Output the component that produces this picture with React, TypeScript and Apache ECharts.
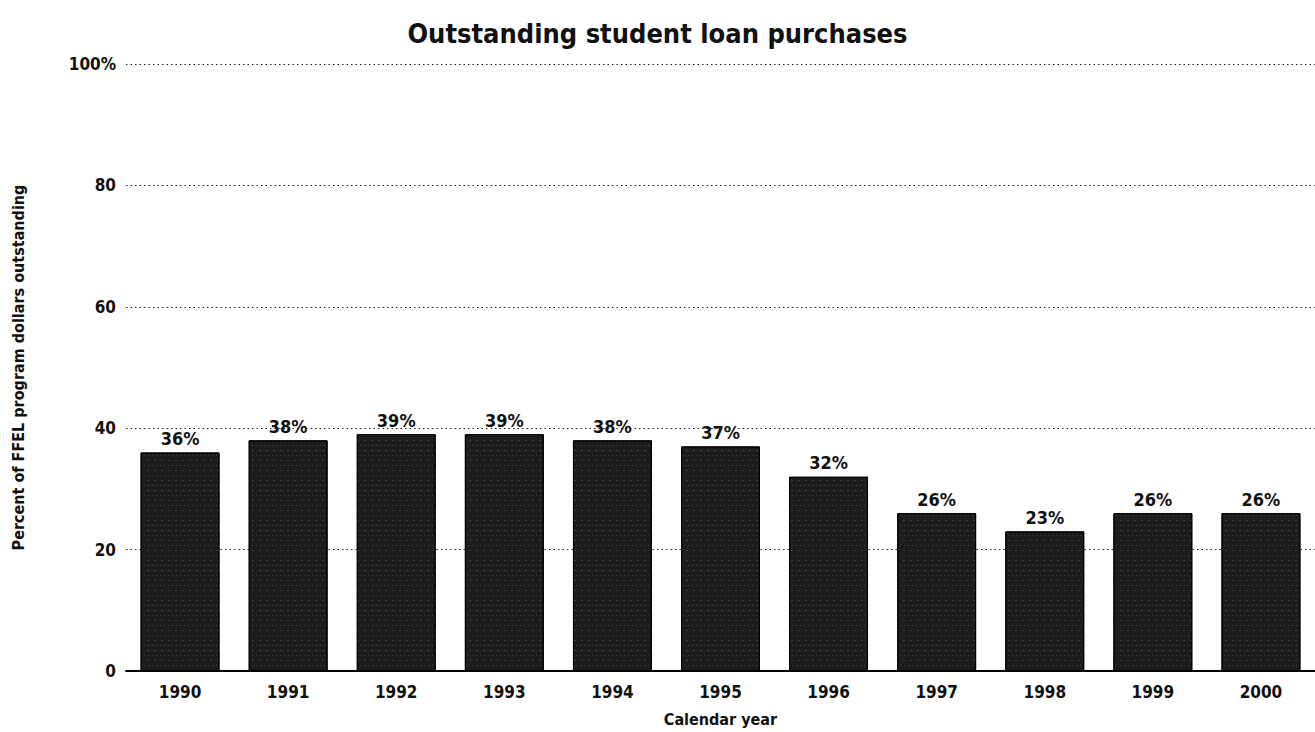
import React, { useEffect, useRef } from "react";
import * as echarts from "echarts";

const years = ["1990", "1991", "1992", "1993", "1994", "1995", "1996", "1997", "1998", "1999", "2000"];
const shares = [36, 38, 39, 39, 38, 37, 32, 26, 23, 26, 26];
const yTicks = [0, 20, 40, 60, 80, 100];

const FONT = "'Liberation Sans Narrow', 'DejaVu Sans Condensed', 'Arial Narrow', sans-serif";

export default function App() {
  const ref = useRef<HTMLDivElement>(null);
  useEffect(() => {
    if (!ref.current) return;
    const chart = echarts.init(ref.current, undefined, { renderer: "svg" });
    chart.setOption({
      animation: false,
      backgroundColor: "#ffffff",
      title: {
        text: "Outstanding student loan purchases",
        left: "center",
        top: 15,
        textStyle: { fontFamily: FONT, fontWeight: "bold", fontSize: 27, color: "#111" },
      },
      grid: { left: 126, right: 0, top: 64, bottom: 60, containLabel: false },
      xAxis: {
        type: "category",
        data: years,
        name: "Calendar year",
        nameLocation: "middle",
        nameGap: 40,
        nameTextStyle: { fontFamily: FONT, fontWeight: "bold", fontSize: 16, color: "#111" },
        axisLine: { show: true, lineStyle: { color: "#000", width: 2 } },
        axisTick: { show: false },
        axisLabel: { fontFamily: FONT, fontWeight: "bold", fontSize: 17, color: "#111", margin: 12 },
      },
      yAxis: {
        type: "value",
        min: 0,
        max: 100,
        interval: 20,
        name: "Percent of FFEL program dollars outstanding",
        nameLocation: "middle",
        nameGap: 100,
        nameTextStyle: { fontFamily: FONT, fontWeight: "bold", fontSize: 16, color: "#111" },
        axisLine: { show: false },
        axisTick: { show: false },
        axisLabel: {
          fontFamily: FONT,
          fontWeight: "bold",
          fontSize: 17,
          color: "#111",
          margin: 10,
          formatter: (v: number) => (yTicks.includes(v) ? (v === 100 ? "100%" : String(v)) : ""),
        },
        splitLine: { show: true, lineStyle: { color: "#222", type: [1.5, 3], width: 1.2 } },
      },
      series: [
        {
          type: "bar",
          data: shares,
          barCategoryGap: "27%",
          itemStyle: {
            color: "#1c1c1c",
            borderColor: "#000",
            borderWidth: 1,
            decal: {
              symbol: "rect",
              symbolSize: 0.8,
              color: "rgba(255,255,255,0.22)",
              dashArrayX: [[1, 3], [2, 5]],
              dashArrayY: [1, 4],
              rotation: 0,
            },
          },
          label: {
            show: true,
            position: "top",
            distance: 5,
            formatter: "{c}%",
            fontFamily: FONT,
            fontWeight: "bold",
            fontSize: 18,
            color: "#111",
          },
        },
      ],
    });
    return () => chart.dispose();
  }, []);
  return (
    <div
      ref={ref}
      style={{ position: "absolute", left: 0, top: 0, width: 1315, height: 732 }}
    />
  );
}
